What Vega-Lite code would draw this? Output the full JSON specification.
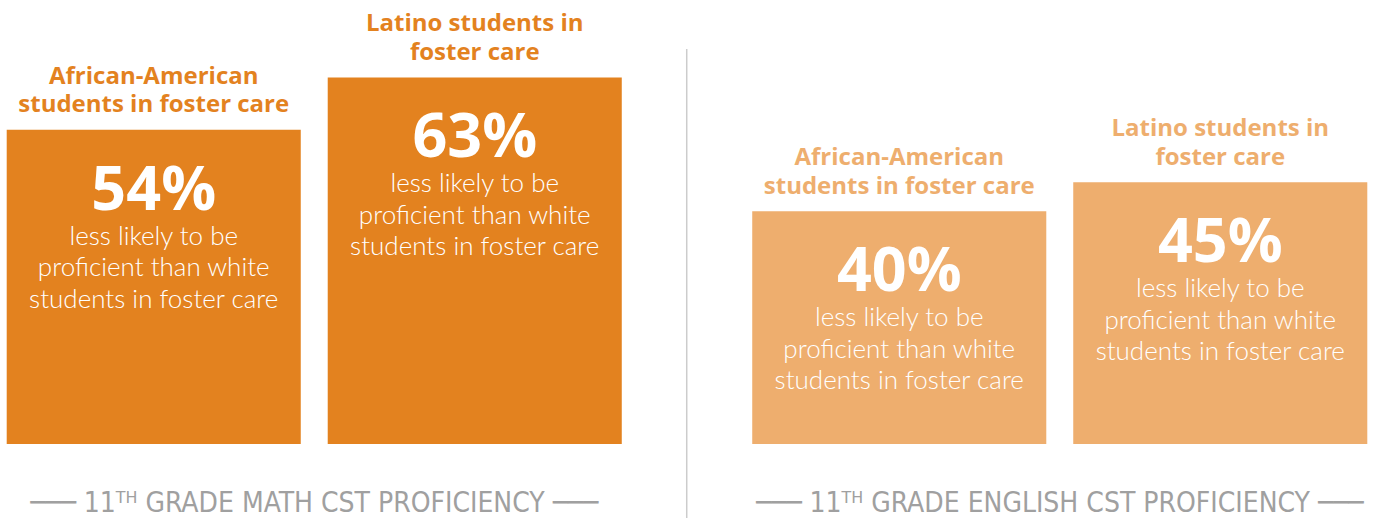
{
  "$schema": "https://vega.github.io/schema/vega-lite/v6.json",
  "width": 1374,
  "height": 518,
  "autosize": {"type": "none"},
  "padding": 0,
  "background": "white",
  "config": {"view": {"stroke": null}},
  "layer": [
    {
      "data": {"values": [
        {"group": "Math", "ethnicity": "African-American", "value": 54, "title": ["African-American", "students in foster care"], "pct": "54%", "desc": ["less likely to be", "proficient than white", "students in foster care"]},
        {"group": "Math", "ethnicity": "Latino", "value": 63, "title": ["Latino students in", "foster care"], "pct": "63%", "desc": ["less likely to be", "proficient than white", "students in foster care"]},
        {"group": "English", "ethnicity": "African-American", "value": 40, "title": ["African-American", "students in foster care"], "pct": "40%", "desc": ["less likely to be", "proficient than white", "students in foster care"]},
        {"group": "English", "ethnicity": "Latino", "value": 45, "title": ["Latino students in", "foster care"], "pct": "45%", "desc": ["less likely to be", "proficient than white", "students in foster care"]}
      ]},
      "encoding": {
        "x": {"field": "group", "type": "nominal", "axis": null, "scale": {"domain": ["Math", "English"], "paddingInner": 0.175, "paddingOuter": 0.009}},
        "xOffset": {"field": "ethnicity", "type": "nominal", "scale": {"domain": ["African-American", "Latino"], "paddingInner": 0.084, "paddingOuter": 0}},
        "y": {"field": "value", "type": "quantitative", "axis": null, "scale": {"domain": [-12.7, 76.3], "nice": false, "zero": false}},
        "color": {"field": "group", "type": "nominal", "legend": null, "scale": {"domain": ["Math", "English"], "range": ["#E3821F", "#EEAE6E"]}}
      },
      "layer": [
        {"mark": {"type": "bar"}, "encoding": {"y2": {"datum": 0}}},
        {"mark": {"type": "text", "font": "Open Sans", "fontWeight": "bold", "fontSize": 24, "lineHeight": 28.5, "baseline": "middle", "align": "center", "dy": -53}, "encoding": {"text": {"field": "title"}}},
        {"mark": {"type": "text", "font": "Open Sans", "fontWeight": "bold", "fontSize": 61, "baseline": "middle", "align": "center", "dy": 62}, "encoding": {"text": {"field": "pct"}, "color": {"value": "white"}}},
        {"mark": {"type": "text", "font": "Lato", "fontWeight": 300, "fontSize": 26, "lineHeight": 31.5, "baseline": "middle", "align": "center", "dy": 107}, "encoding": {"text": {"field": "desc"}, "color": {"value": "white"}}}
      ]
    },
    {
      "data": {"values": [
        {"group": "Math", "label": "───  11ᵀᴴ GRADE MATH CST PROFICIENCY  ───"},
        {"group": "English", "label": "───  11ᵀᴴ GRADE ENGLISH CST PROFICIENCY  ───"}
      ]},
      "mark": {"type": "text", "font": "DejaVu Sans Condensed, DejaVu Sans", "fontSize": 28, "baseline": "middle", "align": "center"},
      "encoding": {
        "x": {"field": "group", "type": "nominal"},
        "y": {"datum": -10.3},
        "text": {"field": "label"},
        "color": {"value": "#A0A0A0"}
      }
    },
    {
      "data": {"values": [{"group": "English"}]},
      "mark": {"type": "rule", "strokeWidth": 1.5},
      "encoding": {
        "x": {"field": "group", "type": "nominal", "bandPosition": -0.1065},
        "y": {"datum": 67.9},
        "y2": {"datum": -12.7},
        "color": {"value": "#CCCCCC"}
      }
    }
  ]
}
